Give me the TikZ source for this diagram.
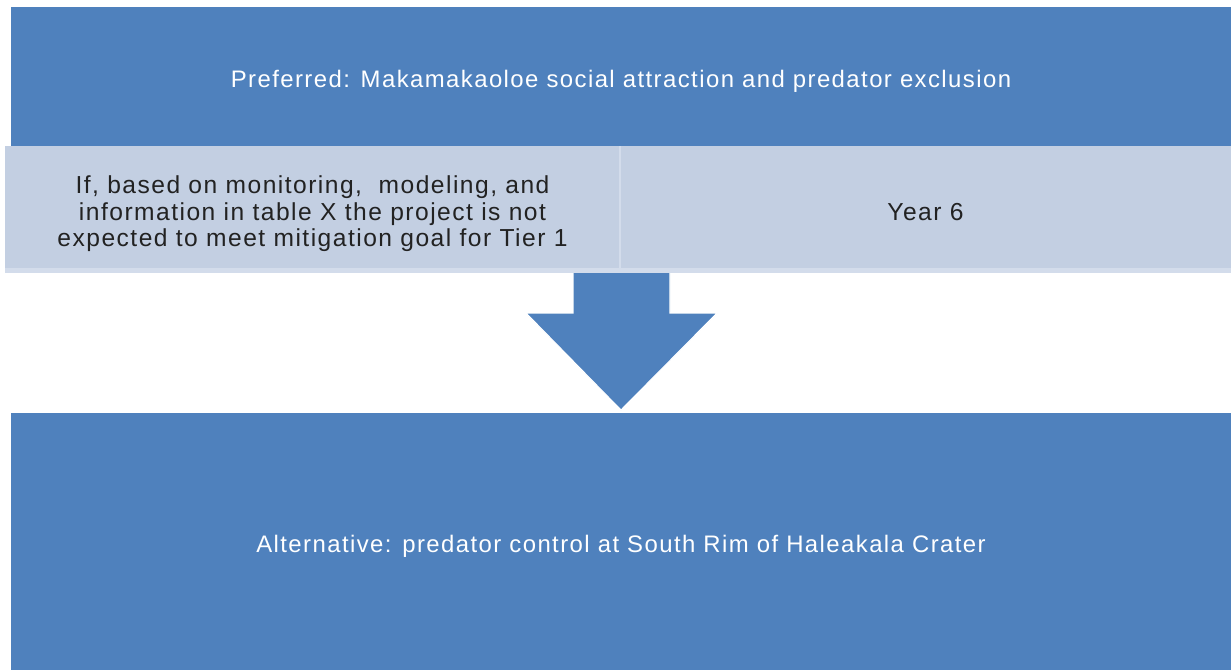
\documentclass[tikz,border=0pt]{standalone}
\usepackage{fontspec}
\setmainfont[LetterSpace=6]{Liberation Sans}
\definecolor{boxblue}{HTML}{4F81BD}
\definecolor{boxpale}{HTML}{C3CFE2}
\definecolor{paleline}{HTML}{D3DCEB}
\definecolor{textgrey}{HTML}{222222}

\begin{document}
\begin{tikzpicture}[x=0.02cm, y=-0.02cm,
  every node/.style={rectangle, inner sep=0pt, outer sep=0pt, align=center, text height=15pt},
  darkbox/.style={fill=boxblue, text=white, font=\fontsize{13.6}{16}\selectfont},
  palebox/.style={fill=boxpale, text=textgrey, font=\fontsize{14}{15.1}\selectfont}]

\useasboundingbox[fill=white] (0,0) rectangle (1231,670);

% Block arrow (behind the band)
\coordinate (shaftL) at (573,268);
\coordinate (shaftR) at (670,268);
\coordinate (tip) at (621,410);
\fill[boxblue, draw=white, line width=0.6pt]
  (shaftL) -- (573,313) -- (526,313) -- (tip) -- (717,313) -- (670,313) -- (shaftR) -- cycle;

% Top box
\node[darkbox, minimum width=24.4cm, minimum height=2.78cm] (pref) at (621,76.5)
  {Preferred: Makamakaoloe social attraction and predator exclusion};

% Middle band
\fill[paleline] (5,266) rectangle (1231,273);
\node[palebox, text height=48.4pt, minimum width=12.3cm, minimum height=2.44cm] (cond) at (312.5,207)
  {If, based on monitoring,\ \ modeling, and\\information in table X the project is not\\expected to meet mitigation goal for Tier 1};
\node[palebox, minimum width=12.22cm, minimum height=2.44cm] (year) at (925.5,207) {Year 6};
\draw[paleline, line width=1.2pt] (cond.north east) -- (cond.south east);

% Bottom box
\node[darkbox, minimum width=24.4cm, minimum height=5.14cm] (alt) at (621,541.5)
  {Alternative: predator control at South Rim of Haleakala Crater};

\end{tikzpicture}
\end{document}
